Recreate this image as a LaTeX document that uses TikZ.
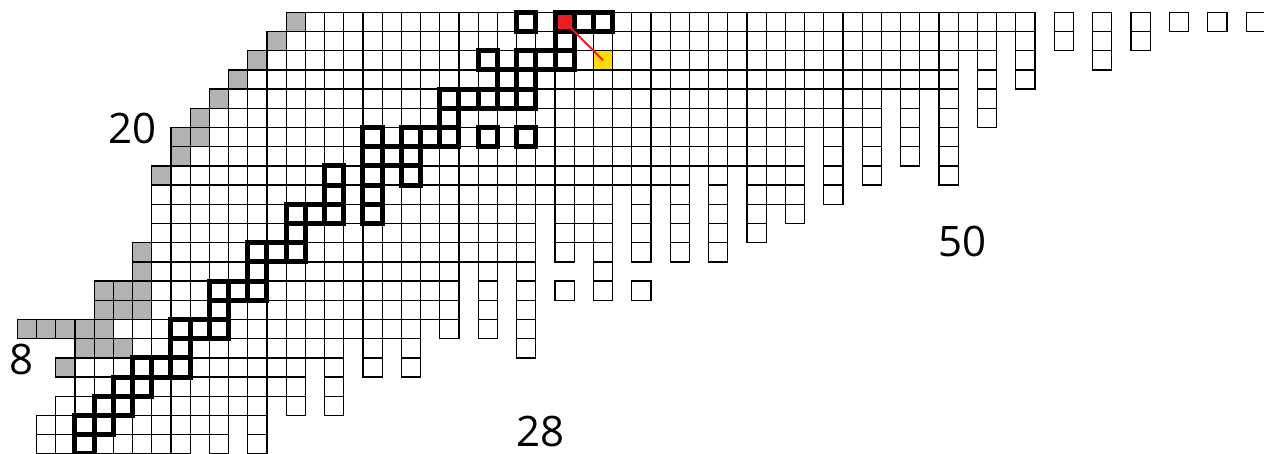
\documentclass[tikz,border=0pt]{standalone}
\usepackage{fontspec}
\setmainfont{Open Sans}
\usepackage{xcolor}
\usepackage{tikz}
\definecolor{seedred}{RGB}{237,28,36}
\definecolor{goldcell}{RGB}{255,221,0}
\tikzset{
  cell/.style    ={draw=black, line width=0.62pt},
  stable/.style  ={cell, fill=black!30},
  pathcell/.style={draw=black, line width=2.5pt},
  seed/.style    ={draw=black, line width=2.5pt, fill=seedred, minimum size=9.6pt, inner sep=0pt, outer sep=0pt},
  target/.style  ={cell, fill=goldcell, minimum size=9.6pt, inner sep=0pt, outer sep=0pt},
  link/.style    ={draw=seedred, line width=1pt},
  magic/.style   ={font=\fontsize{21}{21}\selectfont, inner sep=0pt},
}

\begin{document}
\begin{tikzpicture}[x=9.6pt, y=-9.6pt]
  \useasboundingbox (-1.906,-0.641) rectangle (63.927,23.005);
  \foreach \c/\t/\b in {0/21/22, 1/20/22, 2/18/22, 3/18/22, 4/16/22, 5/16/22, 6/9/22, 7/8/22,
      8/7/21, 9/5/22, 10/4/20, 11/3/22, 12/2/19, 13/1/20, 14/0/17, 15/0/20, 16/0/16, 17/0/18,
      18/0/16, 19/0/18, 20/0/15, 21/0/16, 22/0/12, 23/0/16, 24/0/12, 25/0/17, 26/0/9, 27/0/12,
      28/0/11, 29/0/14, 30/0/8, 31/0/12, 32/0/8, 33/0/12, 34/0/7, 35/0/12, 36/0/7, 37/0/11,
      38/0/9, 39/0/10, 40/0/5, 41/0/9, 42/0/5, 43/0/8, 44/0/3, 45/0/7, 46/0/3, 47/0/8, 48/0/1,
      49/0/5, 50/0/0, 51/0/3, 53/0/1, 55/0/2, 57/0/1, 59/0/0, 61/0/0, 63/0/0}
    \foreach \r in {\t,...,\b}
      \draw[cell] (\c,\r) rectangle ++(1,1);
  \foreach \c/\r in {27/14, 31/14}
    \draw[cell] (\c,\r) rectangle ++(1,1);

  \foreach \c/\r in {13/0, 12/1, 11/2, 10/3, 9/4, 8/5, 7/6, 8/6, 7/7, 6/8, 5/12, 5/13,
      3/14, 4/14, 5/14, 3/15, 4/15, 5/15, -1/16, 0/16, 1/16, 2/16, 3/16, 2/17, 3/17, 4/17, 1/18}
    \draw[stable] (\c,\r) rectangle ++(1,1);

  \node[target] (dst) at (29.5,2.5) {};

  \foreach \c/\r in {25/0, 28/0, 29/0, 27/1, 23/2, 25/2, 26/2, 27/2, 24/3, 25/3,
      21/4, 22/4, 23/4, 24/4, 25/4, 21/5, 17/6, 19/6, 20/6, 21/6, 23/6, 25/6,
      17/7, 18/7, 19/7, 15/8, 17/8, 19/8, 15/9, 17/9, 13/10, 14/10, 15/10, 17/10,
      13/11, 11/12, 12/12, 13/12, 11/13, 9/14, 10/14, 11/14, 9/15, 7/16, 8/16, 9/16,
      7/17, 5/18, 6/18, 7/18, 4/19, 5/19, 3/20, 4/20, 2/21, 3/21, 2/22}
    \draw[pathcell] (\c,\r) rectangle ++(1,1);

  \node[seed] (src) at (27.5,0.5) {};
  \draw[link] (src.center) -- (dst.center);

  \node[magic] (m8)  at (-0.81,18.06) {8};
  \node[magic] (m20) at (4.97,6.03)   {20};
  \node[magic] (m28) at (26.22,21.85) {28};
  \node[magic] (m50) at (48.22,11.94) {50};
\end{tikzpicture}
\end{document}
